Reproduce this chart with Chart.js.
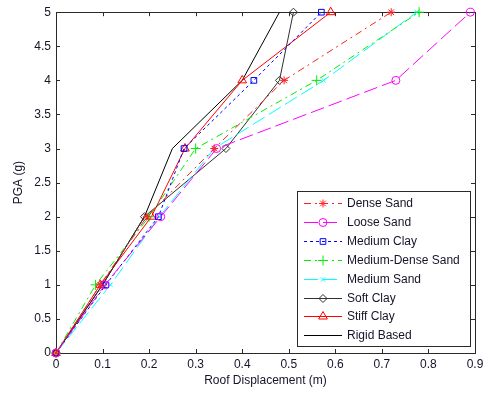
<!DOCTYPE html>
<html lang="en">
<head>
    <meta charset="UTF-8">
    <title>PGA vs Roof Displacement</title>
    <script src="https://cdn.jsdelivr.net/npm/chart.js@4.4.0/dist/chart.umd.min.js"></script>
    <style>
        body { margin: 0; background: #fff; }
        canvas { display: block; }
    </style>
</head>
<body>
<canvas id="pgaChart" width="494" height="393"></canvas>

<script>
    // PGA levels (g) shared by every soil case
    const pgaLevels = [0, 1, 2, 3, 4, 5];

    // Roof displacement (m) at each PGA level
    const denseSand = [0, 0.095, 0.195, 0.34, 0.49, 0.72];
    const looseSand = [0, 0.105, 0.225, 0.345, 0.73, 0.89];
    const mediumClay = [0, 0.107, 0.22, 0.275, 0.425, 0.57];
    const mediumDenseSand = [0, 0.085, 0.2, 0.3, 0.56, 0.78];
    const mediumSand = [0, 0.117, 0.222, 0.34, 0.575, 0.775];
    const softClay = [0, 0.1, 0.19, 0.365, 0.48, 0.51];
    const stiffClay = [0, 0.095, 0.205, 0.277, 0.40, 0.59];
    const rigidBased = [0, 0.1, 0.19, 0.25, 0.40, 0.48];

    const seriesNames = ['Dense Sand', 'Loose Sand', 'Medium Clay', 'Medium-Dense Sand',
        'Medium Sand', 'Soft Clay', 'Stiff Clay', 'Rigid Based'];

    const xTicks = [0, 0.1, 0.2, 0.3, 0.4, 0.5, 0.6, 0.7, 0.8, 0.9];
    const yTicks = [0, 0.5, 1, 1.5, 2, 2.5, 3, 3.5, 4, 4.5, 5];

    const FONT = 'Arial, "Liberation Sans", sans-serif';
    const TEXT = '#14142a';

    function toPoints(xs) {
        return xs.map((x, i) => ({x: x, y: pgaLevels[i]}));
    }

    function makeSet(label, xs, color, dash, style, radius) {
        return {
            label: label,
            data: toPoints(xs),
            showLine: true,
            clip: false,
            borderColor: color,
            borderWidth: 1,
            borderDash: dash,
            pointStyle: style,
            pointRadius: radius,
            pointBorderColor: color,
            pointBackgroundColor: 'rgba(0,0,0,0)',
            pointBorderWidth: 1,
            tension: 0
        };
    }

    const datasets = [
        makeSet(seriesNames[0], denseSand, '#ff2020', [7, 4, 2, 4], 'star', 4),
        makeSet(seriesNames[1], looseSand, '#ff00ff', [14, 5], 'circle', 4),
        makeSet(seriesNames[2], mediumClay, '#0000ff', [3, 3], 'rect', 4),
        makeSet(seriesNames[3], mediumDenseSand, '#00ee00', [7, 4, 2, 4], 'cross', 5),
        makeSet(seriesNames[4], mediumSand, '#00ffff', [14, 5], 'crossRot', 3),
        makeSet(seriesNames[5], softClay, '#303030', [], 'rectRot', 4),
        makeSet(seriesNames[6], stiffClay, '#ff0000', [], 'triangle', 5),
        makeSet(seriesNames[7], rigidBased, '#000000', [], 'circle', 0)
    ];

    // box around the axes with inward tick marks on all four sides
    const axesBox = {
        id: 'axesBox',
        beforeDatasetsDraw(chart) {
            const {ctx, chartArea: a, scales} = chart;
            ctx.save();
            ctx.strokeStyle = '#2a2a2a';
            ctx.lineWidth = 1;
            ctx.setLineDash([]);
            ctx.strokeRect(Math.round(a.left) + 0.5, Math.round(a.top) + 0.5,
                Math.round(a.right - a.left), Math.round(a.bottom - a.top));
            const len = 4;
            ctx.beginPath();
            xTicks.forEach(v => {
                const px = Math.round(scales.x.getPixelForValue(v)) + 0.5;
                ctx.moveTo(px, a.bottom); ctx.lineTo(px, a.bottom - len);
                ctx.moveTo(px, a.top); ctx.lineTo(px, a.top + len);
            });
            yTicks.forEach(v => {
                const py = Math.round(scales.y.getPixelForValue(v)) + 0.5;
                ctx.moveTo(a.left, py); ctx.lineTo(a.left + len, py);
                ctx.moveTo(a.right, py); ctx.lineTo(a.right - len, py);
            });
            ctx.stroke();
            ctx.restore();
        }
    };

    // boxed legend in the lower right corner of the axes
    const boxLegend = {
        id: 'boxLegend',
        afterDraw(chart) {
            const ctx = chart.ctx;
            const left = 297, top = 191, w = 173, h = 155;
            ctx.save();
            ctx.fillStyle = '#fff';
            ctx.fillRect(left, top, w, h);
            ctx.strokeStyle = '#2a2a2a';
            ctx.lineWidth = 1;
            ctx.strokeRect(left + 0.5, top + 0.5, w, h);
            ctx.font = '12px ' + FONT;
            ctx.textBaseline = 'middle';
            chart.data.datasets.forEach((ds, i) => {
                const y = Math.round(top + 12 + i * 18.9) + 0.5;
                ctx.strokeStyle = ds.borderColor;
                ctx.setLineDash(ds.borderDash);
                ctx.beginPath();
                ctx.moveTo(304, y);
                ctx.lineTo(342, y);
                ctx.stroke();
                ctx.setLineDash([]);
                if (ds.pointRadius > 0) {
                    ctx.fillStyle = 'rgba(0,0,0,0)';
                    Chart.helpers.drawPoint(ctx, {
                        pointStyle: ds.pointStyle,
                        radius: ds.pointRadius,
                        rotation: 0,
                        borderWidth: 1
                    }, 323, y);
                }
                ctx.fillStyle = TEXT;
                ctx.fillText(ds.label, 347, y);
            });
            ctx.restore();
        }
    };

    const ctx = document.getElementById('pgaChart');
    const pgaChart = new Chart(ctx, {
        type: 'scatter',
        data: {datasets: datasets},
        options: {
            responsive: false,
            animation: false,
            layout: {padding: {top: 12, right: 19, left: 0, bottom: 0}},
            plugins: {
                legend: {display: false},
                tooltip: {enabled: false}
            },
            scales: {
                x: {
                    type: 'linear',
                    min: 0,
                    max: 0.9,
                    afterBuildTicks: s => { s.ticks = xTicks.map(v => ({value: v})); },
                    afterFit: s => { s.height = 40; },
                    grid: {display: false, drawTicks: false},
                    border: {display: false},
                    ticks: {
                        padding: 4,
                        color: TEXT,
                        font: {family: FONT, size: 12},
                        callback: v => String(+v.toFixed(1))
                    },
                    title: {
                        display: true,
                        text: 'Roof Displacement (m)',
                        color: TEXT,
                        font: {family: FONT, size: 12},
                        padding: {top: 0, bottom: 5}
                    }
                },
                y: {
                    type: 'linear',
                    min: 0,
                    max: 5,
                    afterBuildTicks: s => { s.ticks = yTicks.map(v => ({value: v})); },
                    afterFit: s => { s.width = 56; },
                    grid: {display: false, drawTicks: false},
                    border: {display: false},
                    ticks: {
                        padding: 5,
                        color: TEXT,
                        font: {family: FONT, size: 12},
                        callback: v => String(+v.toFixed(1))
                    },
                    title: {
                        display: true,
                        text: 'PGA (g)',
                        color: TEXT,
                        font: {family: FONT, size: 12},
                        padding: {top: 11, bottom: 0}
                    }
                }
            }
        },
        plugins: [axesBox, boxLegend]
    });
</script>
</body>
</html>
